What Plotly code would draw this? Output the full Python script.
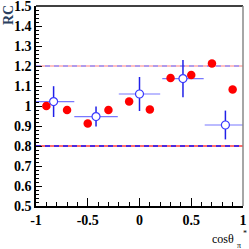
import plotly.graph_objects as go

red_x = [-0.9, -0.7, -0.5, -0.3, -0.1, 0.1, 0.3, 0.5, 0.7, 0.9]
red_y = [1.00, 0.98, 0.913, 0.98, 1.023, 0.983, 1.14, 1.155, 1.213, 1.083]

blue_x = [-0.83, -0.42, 0.0, 0.42, 0.83]
blue_y = [1.022, 0.947, 1.06, 1.137, 0.905]
blue_ey = [0.077, 0.05, 0.085, 0.093, 0.072]
blue_ex = [0.2, 0.21, 0.2, 0.2, 0.2]

ref_levels = [1.2, 0.8]
x_ticks = [-1, -0.5, 0, 0.5, 1]
x_tick_labels = ["-1", "-0.5", "0", "0.5", "1"]
y_ticks = [0.5, 0.6, 0.7, 0.8, 0.9, 1.0, 1.1, 1.2, 1.3, 1.4, 1.5]
y_tick_labels = ["0.5", "0.6", "0.7", "0.8", "0.9", "1", "1.1", "1.2", "1.3", "1.4", "1.5"]

fig = go.Figure()

styles = {1.2: ("rgba(255,160,160,0.9)", "rgba(140,140,255,0.9)"),
          0.8: ("rgba(255,60,60,1)", "rgba(20,20,255,1)")}
for lvl in ref_levels:
    rc, bc = styles[lvl]
    fig.add_trace(go.Scatter(x=[-1, 1], y=[lvl, lvl], mode="lines",
                             line=dict(color=rc, width=1.5), showlegend=False, hoverinfo="skip"))
    fig.add_trace(go.Scatter(x=[-1, 1], y=[lvl, lvl], mode="lines",
                             line=dict(color=bc, width=1.5, dash="5px,4px"), showlegend=False, hoverinfo="skip"))

fig.add_trace(go.Scatter(
    x=blue_x, y=blue_y, mode="markers",
    marker=dict(size=2, color="rgba(0,0,0,0)"),
    error_y=dict(type="data", array=blue_ey, color="#2020e8", thickness=1.5, width=0),
    error_x=dict(type="data", array=blue_ex, color="#7878ff", thickness=1.2, width=0),
    showlegend=False))
fig.add_trace(go.Scatter(
    x=blue_x, y=blue_y, mode="markers",
    marker=dict(symbol="circle", size=8, color="white", line=dict(width=1.2, color="#3a3aff")),
    showlegend=False))

fig.add_trace(go.Scatter(
    x=red_x, y=red_y, mode="markers",
    marker=dict(symbol="circle", size=8.5, color="#ff0000", line=dict(width=0)),
    showlegend=False))

font = dict(family="Liberation Serif", size=14, color="black")
sfont = dict(family="Liberation Serif", size=12, color="black")
tiny = dict(family="Liberation Serif", size=8, color="black")

fig.update_layout(
    width=249, height=249,
    margin=dict(l=36, r=6, t=6, b=43),
    plot_bgcolor="white", paper_bgcolor="white",
    showlegend=False,
    xaxis=dict(range=[-1, 1], tickvals=x_ticks, ticktext=["<b>%s</b>" % t for t in x_tick_labels],
               ticks="inside", ticklen=8, tickwidth=1, tickcolor="black",
               minor=dict(ticks="inside", ticklen=4, dtick=0.1, tickcolor="black"),
               showline=True, linecolor="black", linewidth=1.5, showgrid=False, zeroline=False,
               tickfont=font, ticklabeloverflow="allow", automargin=False),
    yaxis=dict(range=[0.5, 1.5], tickvals=y_ticks, ticktext=["<b>%s</b>" % t for t in y_tick_labels],
               ticks="inside", ticklen=6, tickwidth=1, tickcolor="black",
               minor=dict(ticks="inside", ticklen=3, dtick=0.02, tickcolor="black"),
               showline=True, linecolor="black", linewidth=1.5, showgrid=False, zeroline=False,
               tickfont=font, ticklabeloverflow="allow", automargin=False),
    shapes=[
        dict(type="line", xref="paper", yref="paper", x0=0, x1=1, y0=1, y1=1,
             line=dict(color="black", width=1.5)),
        dict(type="line", xref="paper", yref="paper", x0=1, x1=1, y0=0, y1=1,
             line=dict(color="#888888", width=1.5)),
    ],
    annotations=[
        dict(text="<b>RC</b>", xref="paper", yref="paper", x=-0.135, y=0.955,
             textangle=-90, showarrow=False, font=dict(family="Liberation Serif", size=14),
             xanchor="center", yanchor="middle"),
        dict(text="cosθ", xref="paper", yref="paper", x=0.968, y=-0.165,
             showarrow=False, font=sfont, xanchor="right", yanchor="middle"),
        dict(text="π", xref="paper", yref="paper", x=0.983, y=-0.195,
             showarrow=False, font=tiny, xanchor="center", yanchor="middle"),
        dict(text="*", xref="paper", yref="paper", x=1.01, y=-0.135,
             showarrow=False, font=tiny, xanchor="center", yanchor="middle"),
    ],
)

fig.write_html("out.html", config={"displayModeBar": False},
               post_script="document.body.style.margin='0';document.body.style.overflow='hidden';")
